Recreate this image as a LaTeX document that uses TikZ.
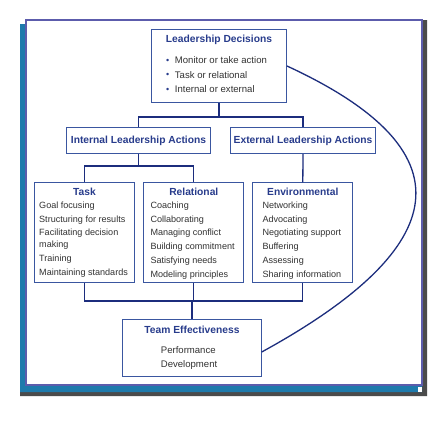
\documentclass[tikz,border=0pt]{standalone}
\usepackage{fontspec}
\setmainfont{Liberation Sans}
\usepackage{tikz}
\usetikzlibrary{positioning}
\definecolor{bleuboite}{RGB}{58,86,160}
\definecolor{bleutitre}{RGB}{40,60,140}
\definecolor{bleulien}{RGB}{28,45,125}
\definecolor{gristexte}{RGB}{50,50,50}
\definecolor{cadreviolet}{RGB}{92,92,172}
\definecolor{cadrebleu}{RGB}{30,122,172}
\definecolor{cadregris}{RGB}{75,75,75}
\begin{document}
\begin{tikzpicture}[x=1bp,y=-1bp]
% définition des paramètres
\tikzstyle boite=[draw=bleuboite,line width=1bp,fill=white,inner sep=0pt,anchor=north west]
\tikzstyle titre=[font=\fontsize{10.3}{12}\selectfont\bfseries,text=bleutitre,inner sep=0pt]
\tikzstyle liste=[font=\fontsize{9.1}{13.8}\selectfont,text=gristexte,align=left,inner sep=0pt]
\tikzstyle listehaut=[font=\fontsize{9.6}{14.7}\selectfont,text=gristexte,align=left,inner sep=0pt]
\tikzstyle lien=[draw=bleulien,line width=1.3bp]
\newcommand{\puce}{\raisebox{0.3bp}{\color{bleutitre}\fontsize{9}{9}\selectfont\textbullet}\hspace{5.6bp}}
\useasboundingbox (0,0) rectangle (447,422);
% le cadre
\fill[cadregris] (422,20) -- (427,20) -- (427,396) -- (20,396) -- (20,392) -- (422,392) -- cycle;
\fill[cadrebleu] (20,24) -- (26,24) -- (26,385) -- (422,385) -- (422,392) -- (20,392) -- cycle;
\fill[white] (417.5,386.5) rectangle (422,392);
\draw[cadreviolet,line width=1.2bp,fill=white] (26,20) rectangle (422,385);
% les boites
\node[boite,minimum width=135bp,minimum height=73bp] (dec) at (151,29) {};
\node[boite,minimum width=144bp,minimum height=26bp,titre,anchor=north west] (intl) at (66,127) {Internal Leadership Actions};
\node[boite,minimum width=145bp,minimum height=26bp,titre,anchor=north west] (extl) at (230,127) {External Leadership Actions};
\node[boite,minimum width=100bp,minimum height=99.5bp] (task) at (34,182.3) {};
\node[boite,minimum width=100bp,minimum height=99.5bp] (rel) at (143.3,182.3) {};
\node[boite,minimum width=100bp,minimum height=99.5bp] (env) at (252.3,182.3) {};
\node[boite,minimum width=138.4bp,minimum height=57bp] (team) at (122.3,319) {};
% les textes
\node[titre,below=6.3bp of dec.north] (dech) {Leadership Decisions};
\node[listehaut,below right=27.5bp and 15bp of dec.north west] (decl)
  {\puce Monitor or take action\\\puce Task or relational\\\puce Internal or external};
\node[titre,below=5.8bp of task.north] (taskh) {Task};
\node[liste,below right=19.3bp and 5bp of task.north west] (taskl)
  {Goal focusing\\Structuring for results\\Facilitating decision\\[-2bp]making\\[0.5bp]Training\\Maintaining standards};
\node[titre,below=5.8bp of rel.north] (relh) {Relational};
\node[liste,below right=19.3bp and 7bp of rel.north west] (rell)
  {Coaching\\Collaborating\\Managing conflict\\Building commitment\\Satisfying needs\\Modeling principles};
\node[titre,below=5.8bp of env.north] (envh) {Environmental};
\node[liste,below right=19.3bp and 10bp of env.north west] (envl)
  {Networking\\Advocating\\Negotiating support\\Buffering\\Assessing\\Sharing information};
\node[titre,below=7bp of team.north] (teamh) {Team Effectiveness};
\node[listehaut,font=\fontsize{9.6}{13.7}\selectfont,below right=27.5bp and 38.4bp of team.north west] (teaml)
  {Performance\\Development};
% les liens
\coordinate (jhaut) at (dec.south |- 0,117);
\coordinate (jint) at (intl.south |- 0,166);
\coordinate (jbas) at (team.north |- 0,301);
\draw[lien] (dec.south) -- (jhaut);
\draw[lien] (intl.north) |- (jhaut) -| (extl.north);
\draw[lien] (intl.south) -- (jint);
\draw[lien] (task.north) |- (jint) -| (rel.north);
\draw[lien] (extl.south) -- (env.north);
\draw[lien] (task.south) |- (jbas) -| (env.south);
\draw[lien] (rel.south) -- (rel.south |- jbas);
\draw[lien] (jbas) -- (team.north);
% la courbe
\draw[lien] (dec.east) .. controls +(206,95) and +(166,-91) .. ([yshift=-4bp]team.east);
\end{tikzpicture}
\end{document}
